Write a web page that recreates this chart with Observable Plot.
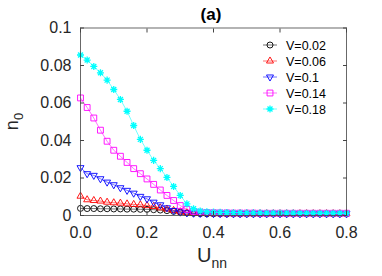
<!DOCTYPE html>
<html><head><meta charset="utf-8">
<script src="https://cdn.jsdelivr.net/npm/d3@7"></script>
<script src="https://cdn.jsdelivr.net/npm/@observablehq/plot@0.6"></script>
<style>body{margin:0;background:#fff}svg{display:block}</style>
</head><body><div id="chart"></div>
<script>
const U = [0,0.02,0.04,0.06,0.08,0.1,0.12,0.14,0.16,0.18,0.2,0.22,0.24,0.26,0.28,0.3,0.32,0.34,0.36,0.38,0.4,0.42,0.44,0.46,0.48,0.5,0.52,0.54,0.56,0.58,0.6,0.62,0.64,0.66,0.68,0.7,0.72,0.74,0.76,0.78,0.8];
const seriesNames = ["V=0.02","V=0.06","V=0.1","V=0.14","V=0.18"];
const seriesColors = ["#000000","#ff0000","#0000ff","#ff00ff","#00ffff"];
const n0_V002 = [0.0038,0.0037,0.0037,0.0036,0.0036,0.0035,0.0035,0.0034,0.0034,0.0033,0.0033,0.0031,0.0029,0.0026,0.0022,0.0018,0.0014,0.0012,0.0010,0.0009,0.0009,0.0009,0.0008,0.0008,0.0008,0.0008,0.0008,0.0008,0.0008,0.0008,0.0008,0.0008,0.0008,0.0008,0.0008,0.0008,0.0008,0.0008,0.0008,0.0008,0.0008];
const n0_V006 = [0.0103,0.0084,0.0080,0.0077,0.0071,0.0068,0.0066,0.0062,0.0059,0.0057,0.0053,0.0048,0.0041,0.0034,0.0027,0.0020,0.0015,0.0012,0.0011,0.0011,0.0010,0.0010,0.0010,0.0010,0.0010,0.0010,0.0010,0.0010,0.0010,0.0010,0.0010,0.0010,0.0010,0.0010,0.0010,0.0010,0.0010,0.0010,0.0010,0.0010,0.0010];
const n0_V010 = [0.0255,0.0223,0.0214,0.0196,0.0178,0.0164,0.0148,0.0134,0.0119,0.0102,0.0089,0.0071,0.0057,0.0041,0.0027,0.0018,0.0014,0.0012,0.0011,0.0011,0.0010,0.0010,0.0010,0.0010,0.0010,0.0010,0.0010,0.0010,0.0010,0.0010,0.0010,0.0010,0.0010,0.0010,0.0010,0.0010,0.0010,0.0010,0.0010,0.0010,0.0010];
const n0_V014 = [0.0627,0.0576,0.0520,0.0455,0.0396,0.0348,0.0316,0.0283,0.0250,0.0223,0.0195,0.0166,0.0136,0.0107,0.0080,0.0053,0.0032,0.0022,0.0018,0.0016,0.0015,0.0014,0.0014,0.0013,0.0013,0.0013,0.0013,0.0012,0.0012,0.0012,0.0012,0.0012,0.0012,0.0012,0.0012,0.0012,0.0012,0.0012,0.0012,0.0012,0.0012];
const n0_V018 = [0.0856,0.0829,0.0795,0.0761,0.0722,0.0672,0.0619,0.0556,0.0480,0.0406,0.0348,0.0294,0.0250,0.0203,0.0155,0.0107,0.0062,0.0036,0.0024,0.0020,0.0018,0.0017,0.0016,0.0015,0.0015,0.0014,0.0014,0.0014,0.0013,0.0013,0.0013,0.0013,0.0013,0.0012,0.0012,0.0012,0.0012,0.0012,0.0012,0.0012,0.0012];
const xTicks = [0,0.2,0.4,0.6,0.8];
const yTicks = [0,0.02,0.04,0.06,0.08,0.1];
const yTickLabels = ["0","0.02","0.04","0.06","0.08","0.1"];
const titleText = "(a)";

const seriesValues = [n0_V002,n0_V006,n0_V010,n0_V014,n0_V018];

const triDown = {draw(ctx, size){const y = Math.sqrt(size/(Math.sqrt(3)*3)); ctx.moveTo(0, y*2); ctx.lineTo(-Math.sqrt(3)*y, -y); ctx.lineTo(Math.sqrt(3)*y, -y); ctx.closePath();}};
const star8 = {draw(ctx, size){const r = Math.sqrt(size)*0.62; const d = r*0.7071; ctx.moveTo(-r,0); ctx.lineTo(r,0); ctx.moveTo(0,-r); ctx.lineTo(0,r); ctx.moveTo(-d,-d); ctx.lineTo(d,d); ctx.moveTo(-d,d); ctx.lineTo(d,-d);}};
const symbols = [d3.symbolCircle, d3.symbolTriangle, triDown, d3.symbolSquare, star8];
const radii = [3, 2.6, 2.6, 3.3, 3.2];
const markerWidths = [0.9, 0.9, 0.9, 0.9, 1.3];

const rows = seriesValues.map((vals, i) => vals.map((v, j) => ({U: U[j], n: v, s: i})));

const marks = [];
rows.forEach((r, i) => {
  marks.push(Plot.line(r, {x: "U", y: "n", stroke: seriesColors[i], strokeWidth: 0.7, strokeOpacity: 0.8}));
  marks.push(Plot.dot(r, {x: "U", y: "n", stroke: seriesColors[i], fill: "none", strokeWidth: markerWidths[i], symbol: symbols[i], r: radii[i]}));
});

const chart = Plot.plot({
  width: 382, height: 276,
  marginLeft: 80, marginRight: 36, marginTop: 27.5, marginBottom: 61,
  style: {fontFamily: "Liberation Sans, Arial, sans-serif", background: "#fff", color: "#262626"},
  x: {domain: [0, 0.8]},
  y: {domain: [0, 0.1]},
  marks: [
    ...marks,
    Plot.frame({stroke: "#444", strokeWidth: 0.8}),
    Plot.axisX(xTicks, {anchor: "bottom", tickSize: -4, tickPadding: 15, fontSize: 16, label: null, stroke: "#444", fill: "#262626"}),
    Plot.axisX(xTicks, {anchor: "top", tickSize: -4, tickFormat: () => "", label: null, stroke: "#444"}),
    Plot.axisY(yTicks, {anchor: "left", tickSize: -4, tickPadding: 13, fontSize: 16, label: null, tickFormat: (d, i) => yTickLabels[i], stroke: "#444", fill: "#262626"}),
    Plot.axisY(yTicks, {anchor: "right", tickSize: -4, tickFormat: () => "", label: null, stroke: "#444"})
  ]
});
document.getElementById("chart").appendChild(chart);

const svg = d3.select(chart);
const FF = "Liberation Sans, Arial, sans-serif";
// title
svg.append("text").attr("x", 211).attr("y", 20).attr("text-anchor", "middle")
  .attr("font-size", 17).attr("font-weight", "bold").attr("fill", "#000")
  .attr("font-family", FF).text(titleText);
// y label
const yl = svg.append("text").attr("transform", "translate(18,121.5) rotate(-90)").attr("text-anchor", "middle")
  .attr("font-family", FF).attr("fill", "#262626").attr("font-size", 18);
yl.append("tspan").text("n");
yl.append("tspan").attr("font-size", 13).attr("dy", 5).text("0");
// x label
const xl = svg.append("text").attr("x", 212).attr("y", 262).attr("text-anchor", "middle")
  .attr("font-family", FF).attr("fill", "#262626").attr("font-size", 20);
xl.append("tspan").text("U");
xl.append("tspan").attr("font-size", 14).attr("dy", 6).text("nn");
// legend
const lg = svg.append("g").attr("font-family", FF).attr("font-size", 12.5).attr("fill", "#000").attr("text-anchor", "start");
seriesNames.forEach((name, i) => {
  const cy = 45 + i * 16;
  lg.append("line").attr("x1", 263).attr("x2", 277).attr("y1", cy).attr("y2", cy)
    .attr("stroke", seriesColors[i]).attr("stroke-width", 0.7).attr("stroke-opacity", 0.8);
  lg.append("path").attr("transform", `translate(270,${cy})`)
    .attr("d", d3.symbol(symbols[i], Math.PI * radii[i] * radii[i])())
    .attr("fill", "none").attr("stroke", seriesColors[i]).attr("stroke-width", markerWidths[i]);
  lg.append("text").attr("x", 286).attr("y", cy + 4.5).attr("text-anchor", "start").text(name);
});
</script></body></html>
